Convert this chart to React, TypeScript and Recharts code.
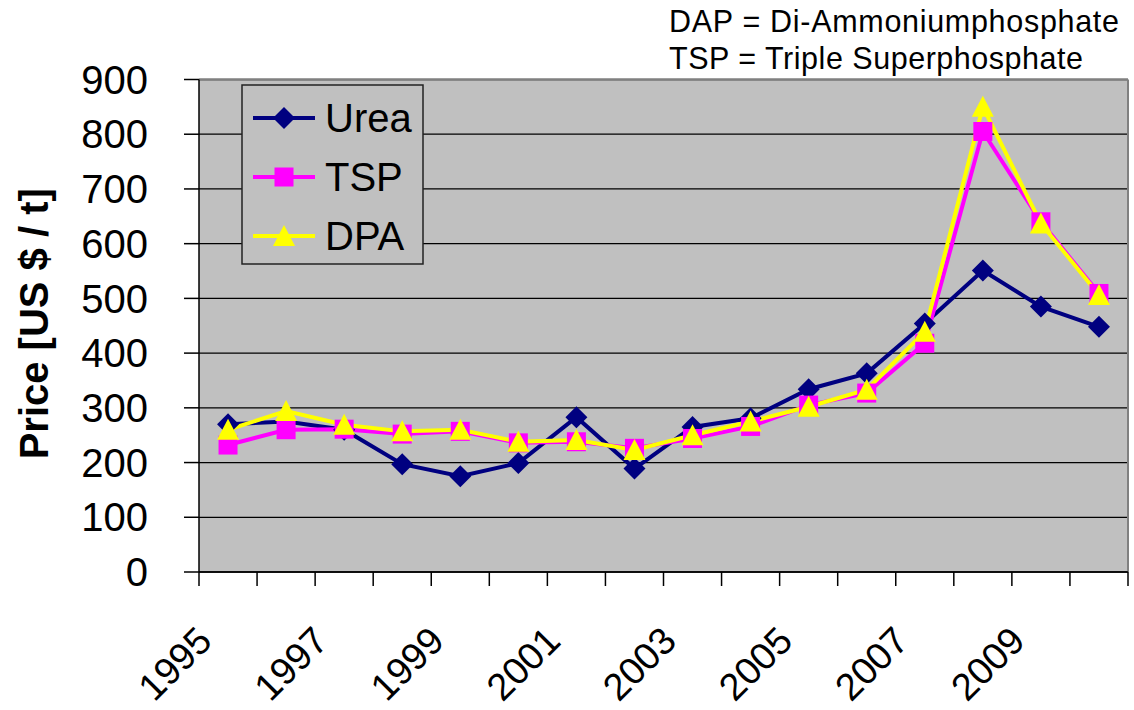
import React from "react";
import {
  LineChart,
  Line,
  XAxis,
  YAxis,
  CartesianGrid,
  ReferenceLine,
  Legend,
} from "recharts";

const YEARS = [
  1995, 1996, 1997, 1998, 1999, 2000, 2001, 2002, 2003, 2004, 2005, 2006,
  2007, 2008, 2009, 2010,
];
const UREA = [270, 275, 260, 197, 175, 199, 283, 189, 265, 281, 334, 363, 454, 551, 485, 448];
const TSP = [232, 260, 261, 252, 257, 236, 238, 226, 244, 266, 305, 327, 418, 805, 640, 509];
const DPA = [260, 294, 269, 257, 260, 238, 241, 223, 250, 275, 302, 333, 439, 850, 637, 506];

const Y_TICKS = [0, 100, 200, 300, 400, 500, 600, 700, 800, 900];
const X_TICKS = YEARS.map((_, i) => i).concat(YEARS.length);
const NOTES = ["DAP = Di-Ammoniumphosphate", "TSP = Triple Superphosphate"];
const NOTE_WIDTHS = [450, 414];
const Y_LABEL = "Price [US $ / t]";

const SERIES = [
  { key: "Urea", values: UREA, color: "#000080", shape: "diamond" },
  { key: "TSP", values: TSP, color: "#FF00FF", shape: "square" },
  { key: "DPA", values: DPA, color: "#FFFF00", shape: "triangle" },
];

const FONT = "'Liberation Sans', Arial, sans-serif";

const data = YEARS.map((year, i) => ({
  year,
  pos: i + 0.5,
  Urea: UREA[i],
  TSP: TSP[i],
  DPA: DPA[i],
}));

function marker(shape: string, cx: number, cy: number, color: string) {
  if (shape === "diamond") {
    return (
      <polygon
        points={`${cx},${cy - 11} ${cx + 11},${cy} ${cx},${cy + 11} ${cx - 11},${cy}`}
        fill={color}
      />
    );
  }
  if (shape === "square") {
    return <rect x={cx - 9.5} y={cy - 9.5} width={19} height={19} fill={color} />;
  }
  return (
    <polygon
      points={`${cx},${cy - 11} ${cx + 11},${cy + 10} ${cx - 11},${cy + 10}`}
      fill={color}
    />
  );
}

const XTick = (props: any) => {
  const { x, payload } = props;
  const v = payload.value;
  if (v % 2 !== 0 || v >= YEARS.length) return <g />;
  const ax = x + 15;
  const ay = 643;
  return (
    <text
      x={ax}
      y={ay}
      textAnchor="end"
      fontFamily={FONT}
      fontSize={38}
      fill="#000"
      transform={`rotate(-45, ${ax}, ${ay})`}
    >
      {YEARS[v]}
    </text>
  );
};

const LegendBox = () => (
  <svg width={184} height={182} style={{ display: "block" }}>
    <rect x={1} y={1} width={181} height={179} fill="#C0C0C0" stroke="#222" strokeWidth={1.5} />
    {SERIES.map((s, i) => {
      const cy = 34 + i * 59;
      return (
        <g key={s.key}>
          <line x1={12} x2={74} y1={cy} y2={cy} stroke={s.color} strokeWidth={4} />
          {marker(s.shape, 43, cy, s.color)}
          <text x={84} y={cy + 14} fontFamily={FONT} fontSize={40} fill="#000">
            {s.key}
          </text>
        </g>
      );
    })}
  </svg>
);

export default function App() {
  return (
    <div style={{ position: "absolute", left: 0, top: 0, width: 1134, height: 710, background: "#fff" }}>
      <LineChart
        width={1134}
        height={710}
        data={data}
        margin={{ top: 79.5, right: 6, bottom: 0, left: 0 }}
      >
        <CartesianGrid vertical={false} stroke="#000" strokeWidth={1.3} fill="#C0C0C0" />
        <ReferenceLine x={16} stroke="#808080" strokeWidth={2} />
        <ReferenceLine y={900} stroke="#808080" strokeWidth={2} />
        <XAxis
          dataKey="pos"
          type="number"
          domain={[0, 16]}
          ticks={X_TICKS}
          interval={0}
          height={138}
          tickSize={14}
          stroke="#000"
          strokeWidth={1.5}
          tick={<XTick />}
        />
        <YAxis
          type="number"
          domain={[0, 900]}
          ticks={Y_TICKS}
          interval={0}
          width={199}
          tickSize={15}
          tickMargin={36}
          stroke="#000"
          strokeWidth={1.5}
          tick={{ fontFamily: FONT, fontSize: 40, fill: "#000" }}
          label={({ viewBox }: any) => {
            const cx = 48;
            const cy = viewBox.y + viewBox.height / 2 - 2;
            return (
              <text
                x={cx}
                y={cy}
                textAnchor="middle"
                fontFamily={FONT}
                fontWeight="bold"
                fontSize={40}
                fill="#000"
                transform={`rotate(-90, ${cx}, ${cy})`}
              >
                {Y_LABEL}
              </text>
            );
          }}
        />
        <Legend
          verticalAlign="middle"
          align="center"
          layout="vertical"
          wrapperStyle={{ left: 241, top: 84, width: 184, height: 182 }}
          content={() => <LegendBox />}
        />
        {SERIES.map((s) => (
          <Line
            key={s.key}
            dataKey={s.key}
            type="linear"
            stroke={s.color}
            strokeWidth={4}
            isAnimationActive={false}
            activeDot={false}
            dot={(p: any) => (
              <g key={`${s.key}-${p.index}`}>{marker(s.shape, p.cx, p.cy, s.color)}</g>
            )}
          />
        ))}
      </LineChart>
      <svg
        width={1134}
        height={90}
        style={{ position: "absolute", left: 0, top: 0, pointerEvents: "none" }}
      >
        {NOTES.map((t, i) => (
          <text
            key={t}
            x={669}
            y={32 + i * 36.5}
            fontFamily={FONT}
            fontSize={30.5}
            textLength={NOTE_WIDTHS[i]}
            lengthAdjust="spacing"
            fill="#000"
          >
            {t}
          </text>
        ))}
      </svg>
    </div>
  );
}
